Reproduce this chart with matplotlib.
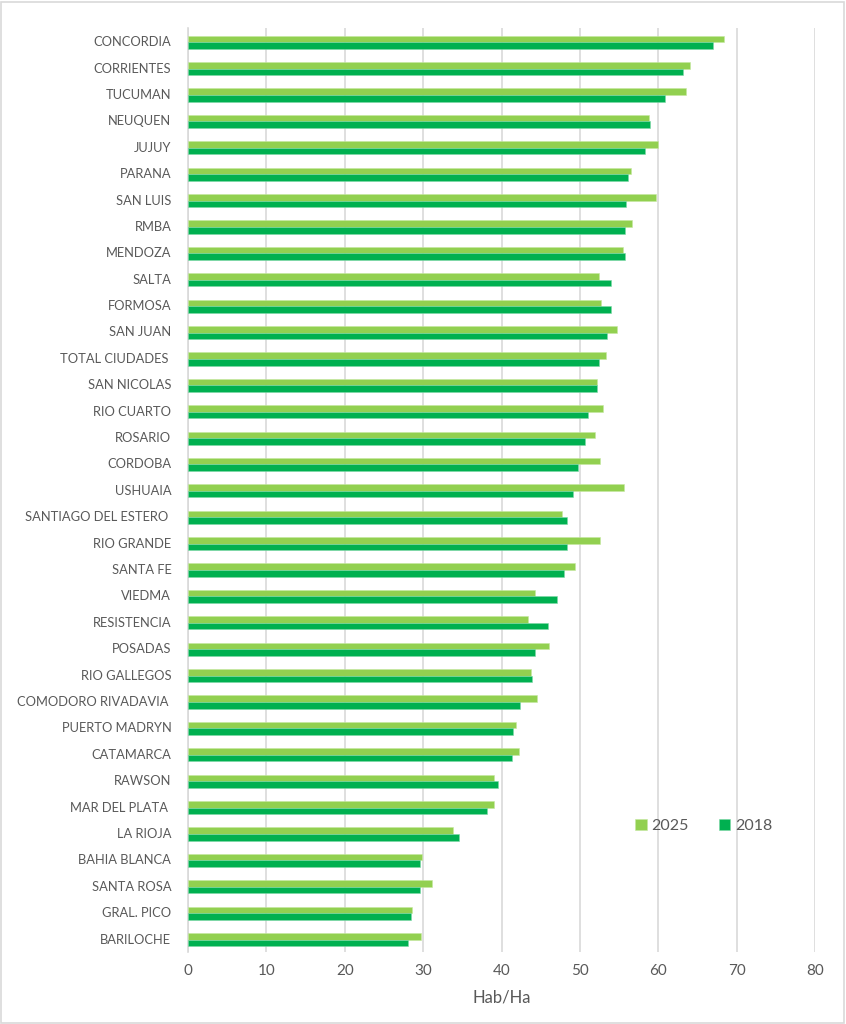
import matplotlib.pyplot as plt
import numpy as np
from matplotlib.patches import Rectangle

cities = [
    "CONCORDIA", "CORRIENTES", "TUCUMAN", "NEUQUEN", "JUJUY", "PARANA",
    "SAN LUIS", "RMBA", "MENDOZA", "SALTA", "FORMOSA", "SAN JUAN",
    "TOTAL CIUDADES ", "SAN NICOLAS", "RIO CUARTO", "ROSARIO", "CORDOBA",
    "USHUAIA", "SANTIAGO DEL ESTERO ", "RIO GRANDE", "SANTA FE", "VIEDMA",
    "RESISTENCIA", "POSADAS", "RIO GALLEGOS", "COMODORO RIVADAVIA ",
    "PUERTO MADRYN", "CATAMARCA", "RAWSON", "MAR DEL PLATA ", "LA RIOJA",
    "BAHIA BLANCA", "SANTA ROSA", "GRAL. PICO", "BARILOCHE",
]
vals_2025 = [
    68.4, 64.1, 63.5, 58.8, 60.0, 56.5, 59.7, 56.7, 55.5, 52.4, 52.7, 54.7,
    53.3, 52.2, 53.0, 51.9, 52.6, 55.6, 47.7, 52.6, 49.4, 44.3, 43.4, 46.1,
    43.7, 44.5, 41.9, 42.2, 39.0, 39.0, 33.8, 29.9, 31.1, 28.6, 29.7,
]
vals_2018 = [
    67.0, 63.2, 60.9, 58.9, 58.3, 56.1, 55.9, 55.7, 55.7, 54.0, 54.0, 53.5,
    52.4, 52.2, 51.0, 50.7, 49.7, 49.1, 48.4, 48.3, 48.0, 47.1, 45.9, 44.3,
    43.9, 42.4, 41.5, 41.3, 39.6, 38.1, 34.6, 29.6, 29.6, 28.5, 28.1,
]
x_ticks = [0, 10, 20, 30, 40, 50, 60, 70, 80]

light = "#92D050"
dark = "#00B050"
text_c = "#595959"
grid_c = "#D9D9D9"

plt.rcParams["font.family"] = ["Lato", "DejaVu Sans"]

fig = plt.figure(figsize=(8.46, 10.24), dpi=100)
ax = fig.add_axes([0.2222, 0.0706, 0.7412, 0.9021])

n = len(cities)
y = np.arange(n)
h = 0.25
ax.barh(y - h / 2 + 0.04, vals_2025, height=h, color=light, label="2025",
        edgecolor="#C5E8A0", linewidth=0.4, zorder=3)
ax.barh(y + h / 2 + 0.04, vals_2018, height=h, color=dark, label="2018",
        edgecolor="#7FD8A8", linewidth=0.4, zorder=3)

ax.set_ylim(n - 0.5, -0.5)
ax.set_xlim(0, 80)
ax.set_yticks(y)
ax.set_yticklabels(cities, fontsize=9.3, color=text_c)
for lbl in ax.get_yticklabels():
    lbl.set_y(lbl.get_position()[1])
ax.set_xticks(x_ticks)
ax.set_xticklabels([str(t) for t in x_ticks], fontsize=11, color=text_c)
ax.tick_params(length=0)
ax.tick_params(axis="y", pad=12)
ax.tick_params(axis="x", pad=9)
ax.xaxis.grid(True, color=grid_c, linewidth=1.2, zorder=0)
ax.set_axisbelow(True)
for side in ["top", "right", "bottom"]:
    ax.spines[side].set_visible(False)
ax.spines["left"].set_color(grid_c)
ax.spines["left"].set_linewidth(1.2)

ax.set_xlabel("Hab/Ha", fontsize=12, color=text_c, labelpad=8)

fig.legend(loc="center left", bbox_to_anchor=(0.734, 0.193), ncol=2,
           frameon=False, fontsize=11.5, labelcolor=text_c,
           handlelength=0.7, handleheight=0.7, handletextpad=0.3,
           columnspacing=1.9)

fig.patches.append(Rectangle((0.001, 0.001), 0.997, 0.997,
                             transform=fig.transFigure, fill=False,
                             edgecolor=grid_c, linewidth=1.2))

fig.savefig("out.png", dpi=100)
